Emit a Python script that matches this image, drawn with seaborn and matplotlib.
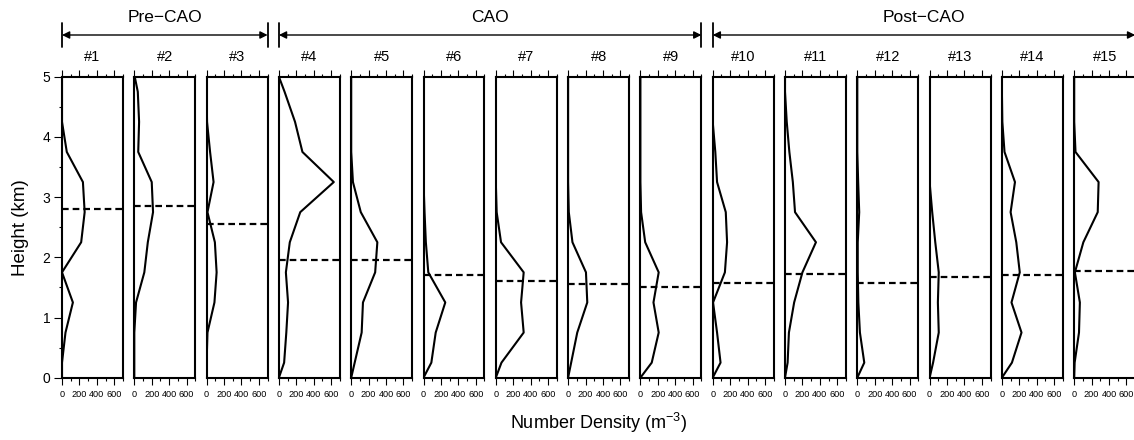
import numpy as np
import pandas as pd
import matplotlib
matplotlib.use("Agg")
import matplotlib.pyplot as plt
from matplotlib.ticker import MultipleLocator
from matplotlib.patches import FancyArrowPatch
from matplotlib.lines import Line2D
import seaborn as sns

sns.set_theme(style="ticks")
plt.rcParams['font.family'] = ['Liberation Sans', 'DejaVu Sans']
plt.rcParams['mathtext.fontset'] = 'custom'
plt.rcParams['mathtext.rm'] = 'Liberation Sans'
plt.rcParams['text.color'] = 'black'
plt.rcParams['xtick.color'] = 'black'
plt.rcParams['ytick.color'] = 'black'
plt.rcParams['axes.edgecolor'] = 'black'

# Data
heights = [0, 0.25, 0.75, 1.25, 1.75, 2.25, 2.75, 3.25, 3.75, 4.25, 4.75, 5.0]
density = [
    [0, 0, 40, 125, 0, 220, 260, 240, 55, 0, 0, 0],          # 1
    [0, 0, 0, 20, 115, 155, 215, 200, 45, 55, 40, 5],        # 2
    [0, 0, 10, 90, 115, 95, 10, 80, 40, 5, 0, 0],            # 3
    [0, 60, 85, 105, 80, 125, 245, 630, 270, 185, 65, 0],    # 4
    [0, 40, 120, 135, 275, 300, 110, 20, 0, 0, 0, 0],        # 5
    [0, 90, 140, 250, 55, 27, 12, 0, 0, 0, 0, 0],            # 6
    [0, 65, 320, 290, 320, 60, 10, 0, 0, 0, 0, 0],           # 7
    [0, 35, 105, 220, 205, 50, 8, 0, 0, 0, 0, 0],            # 8
    [0, 130, 210, 150, 210, 55, 8, 0, 0, 0, 0, 0],           # 9
    [0, 90, 50, 4, 140, 165, 150, 50, 30, 0, 0, 0],          # 10
    [0, 30, 45, 105, 200, 355, 115, 90, 50, 20, 0, 0],       # 11
    [0, 80, 30, 12, 5, 5, 22, 10, 0, 0, 0, 0],               # 12
    [0, 40, 105, 95, 105, 65, 30, 0, 0, 0, 0, 0],            # 13
    [0, 115, 225, 110, 205, 165, 100, 150, 30, 5, 0, 0],     # 14
    [0, 5, 55, 65, 8, 105, 270, 280, 15, 0, 0, 0],           # 15
]
mean_height = [2.80, 2.85, 2.56, 1.95, 1.96, 1.70, 1.60, 1.56, 1.50,
               1.57, 1.72, 1.57, 1.68, 1.71, 1.77]
case_labels = [f"#{i}" for i in range(1, 16)]
periods = [("Pre\u2212CAO", 0, 2), ("CAO", 3, 8), ("Post\u2212CAO", 9, 14)]

W, H = 1134, 440
fig = plt.figure(figsize=(W / 100, H / 100), dpi=100)

axes = []
for i, lab in enumerate(case_labels):
    left = (62 + i * 72.3) / W
    ax = fig.add_axes([left, (H - 377.7) / H, 61 / W, 301 / H])
    df = pd.DataFrame({'height': heights, 'density': density[i]})
    sns.lineplot(data=df, x='density', y='height', orient='y', sort=False,
                 estimator=None, color='black', lw=1.5, ax=ax)
    ax.axhline(mean_height[i], color='black', lw=1.6, ls=(0, (3, 1.8)))
    ax.set_xlim(0, 700)
    ax.set_ylim(0, 5)
    ax.set_xlabel('')
    ax.set_ylabel('')
    ax.xaxis.set_major_locator(MultipleLocator(200))
    ax.xaxis.set_minor_locator(MultipleLocator(100))
    ax.tick_params(axis='x', which='both', top=True, bottom=True,
                   direction='out', width=0.8, labelsize=6.6, pad=4)
    ax.tick_params(axis='x', which='major', length=5)
    ax.tick_params(axis='x', which='minor', length=2.5)
    if i == 0:
        ax.yaxis.set_major_locator(MultipleLocator(1))
        ax.yaxis.set_minor_locator(MultipleLocator(0.5))
        ax.tick_params(axis='y', which='both', direction='out', width=0.8,
                       labelsize=10, pad=3)
        ax.tick_params(axis='y', which='major', length=5.5)
        ax.tick_params(axis='y', which='minor', length=2.5)
    else:
        ax.set_yticks([])
        ax.tick_params(axis='y', which='both', left=False)
    for s in ax.spines.values():
        s.set_linewidth(1.5)
        s.set_visible(True)
    ax.text(0.5, 1 + (76.7 - 57) / 301, lab, transform=ax.transAxes,
            ha='center', va='center', fontsize=10.5)
    axes.append(ax)

# period brackets
y_arrow = 1 - 35 / H
for name, a, b in periods:
    x0 = axes[a].get_position().x0
    x1 = axes[b].get_position().x1
    fig.add_artist(FancyArrowPatch((x0, y_arrow), (x1, y_arrow),
                                   transform=fig.transFigure, arrowstyle='<|-|>',
                                   mutation_scale=11, color='black', lw=1.0,
                                   shrinkA=0, shrinkB=0))
    for xv in (x0, x1):
        fig.add_artist(Line2D([xv, xv], [1 - 23 / H, 1 - 47 / H],
                              transform=fig.transFigure, color='black', lw=1.3))
    fig.text((x0 + x1) / 2, 1 - 17 / H, name, ha='center', va='center',
             fontsize=12.5)

x_mid = (axes[0].get_position().x0 + axes[-1].get_position().x1) / 2
fig.text(x_mid, 17 / H, r'Number Density (m$^{\mathregular{-3}}$)',
         ha='center', va='center', fontsize=13)
fig.text(21 / W, axes[0].get_position().y0 + axes[0].get_position().height / 2,
         'Height (km)', rotation=90, ha='center', va='center', fontsize=13.5)

fig.savefig("out.png", dpi=100)
